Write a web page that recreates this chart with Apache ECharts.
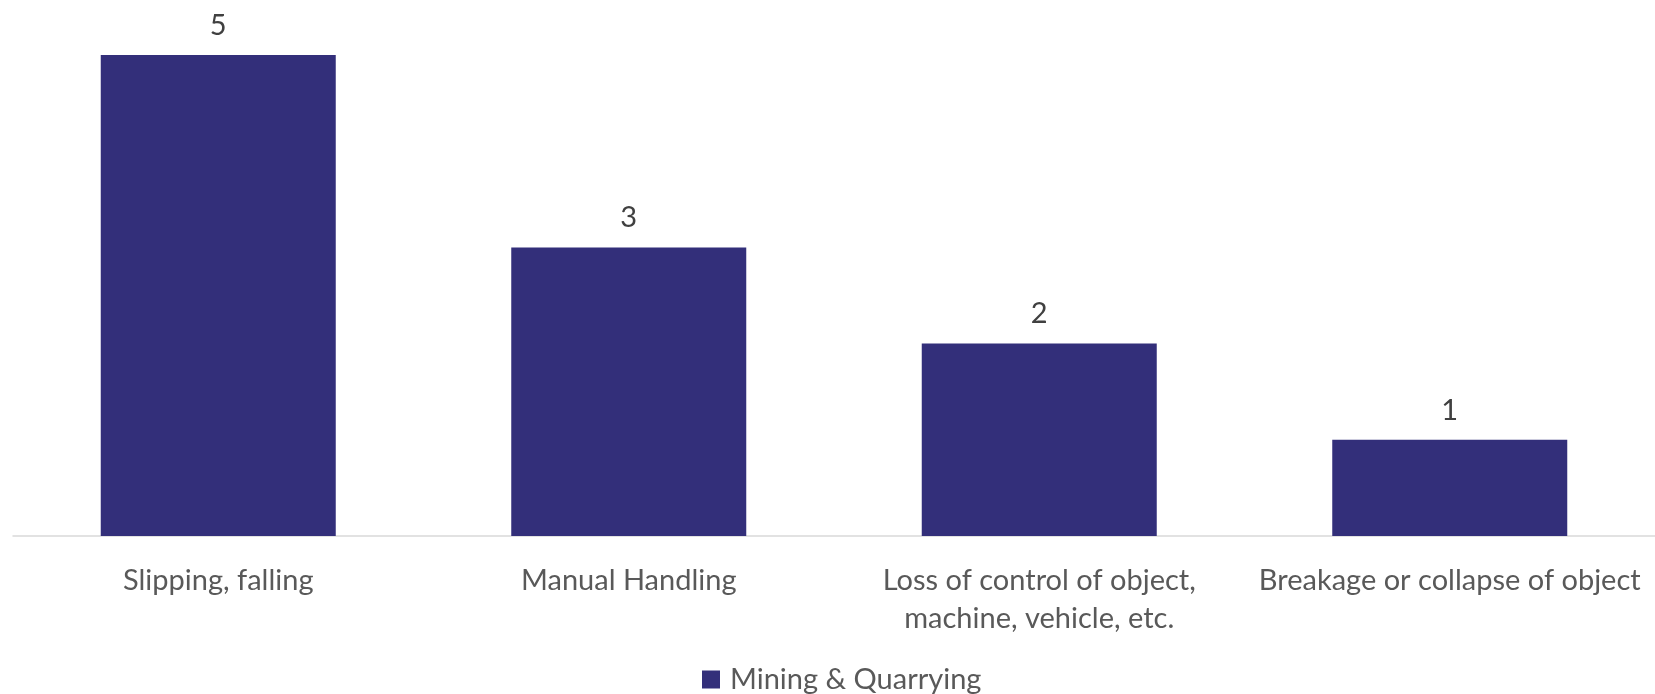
<!DOCTYPE html>
<html>
<head>
<meta charset="utf-8">
<script src="https://cdn.jsdelivr.net/npm/echarts@6/dist/echarts.min.js"></script>
<style>html,body{margin:0;padding:0;background:#fff;}#c{width:1655px;height:694px;}</style>
</head>
<body>
<div id="c"></div>
<script>
const categories = ["Slipping, falling", "Manual Handling", "Loss of control of object,\nmachine, vehicle, etc.", "Breakage or collapse of object"];
const seriesName = "Mining & Quarrying";
const values = [5, 3, 2, 1];

const FONT = 'Lato';
const chart = echarts.init(document.getElementById('c'));
chart.setOption({
  animation: false,
  backgroundColor: '#fff',
  grid: { left: 13, width: 1648, top: 55, bottom: 158, containLabel: false },
  legend: {
    top: 660, left: 697,
    itemWidth: 18, itemHeight: 18, itemGap: 9,
    icon: 'rect',
    textStyle: { fontFamily: FONT, fontSize: 29, color: '#595959', padding: [0, 0, 0, 5] },
    data: [seriesName]
  },
  xAxis: {
    type: 'category', data: categories,
    axisLine: { lineStyle: { color: '#D9D9D9', width: 1.5 } },
    axisTick: { show: false },
    axisLabel: { fontFamily: FONT, fontSize: 29, color: '#595959', margin: 26, lineHeight: 38, interval: 0 }
  },
  yAxis: {
    type: 'value', min: 0, max: 5,
    show: false, splitLine: { show: false }
  },
  series: [{
    name: seriesName, type: 'bar', data: values, barWidth: 235,
    itemStyle: { color: '#332F7A' },
    label: { show: true, position: 'top', distance: 15, fontFamily: FONT, fontSize: 29, color: '#404040' }
  }]
});
</script>
</body>
</html>
